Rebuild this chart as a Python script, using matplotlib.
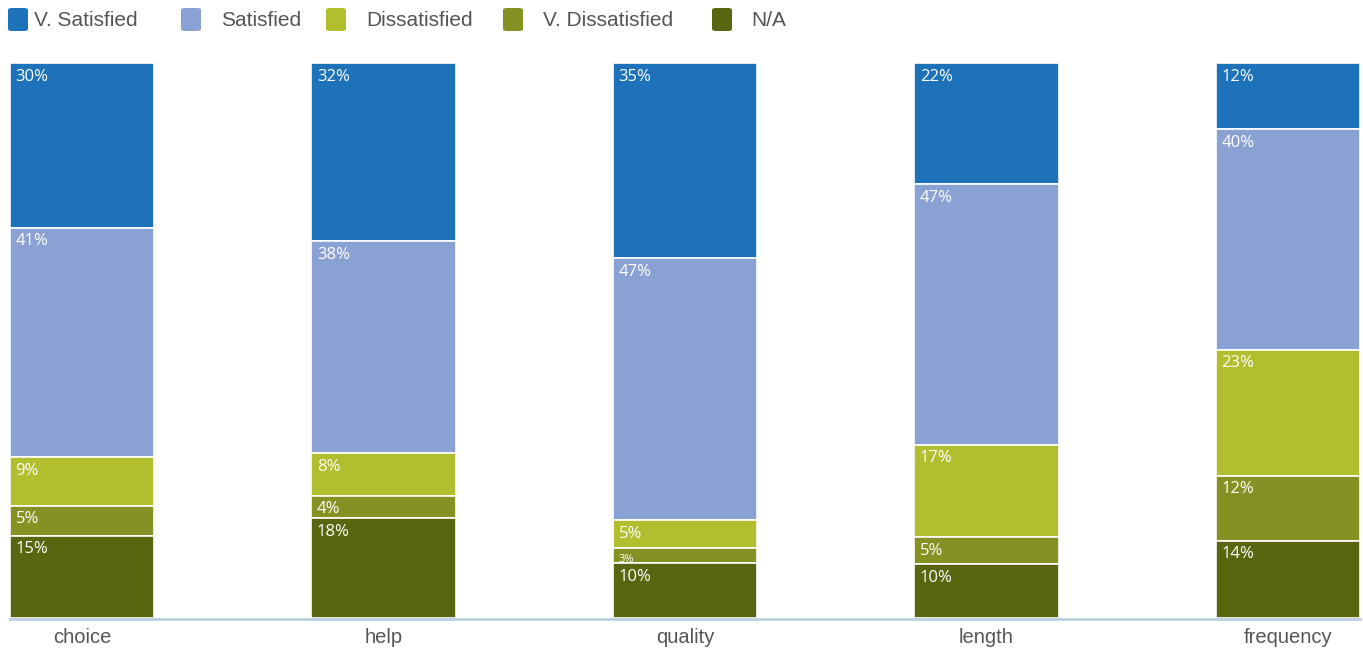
import numpy as np
import matplotlib.pyplot as plt
from matplotlib.patches import FancyBboxPatch

categories = ['choice', 'help', 'quality', 'length', 'frequency']
series = ['V. Satisfied', 'Satisfied', 'Dissatisfied', 'V. Dissatisfied', 'N/A']
colors = ['#1d72b9', '#8aa1d3', '#b1be2e', '#859122', '#5a650f']

v_satisfied = [29.7, 32.1, 35.1, 21.8, 11.9]
satisfied = [41.3, 38.2, 47.2, 47.0, 39.8]
dissatisfied = [8.8, 7.7, 5.0, 16.6, 22.7]
v_dissatisfied = [5.4, 4.0, 2.7, 4.9, 11.7]
na = [14.8, 18.0, 9.9, 9.7, 13.9]

data = np.array([v_satisfied, satisfied, dissatisfied, v_dissatisfied, na])
data = data / data.sum(axis=0) * 100

W, H = 1363, 649
fig = plt.figure(figsize=(W / 100, H / 100), dpi=100)
ax = fig.add_axes([10 / W, (H - 618) / H, 1350 / W, 555 / H])

x = np.arange(len(categories))
width = 0.478
top = np.full(len(categories), 100.0)
for i, name in enumerate(series):
    vals = data[i]
    bottom = top - vals
    ax.bar(x, vals, width, bottom=bottom, color=colors[i],
           edgecolor='white', linewidth=1.2, align='center')
    for j in range(len(categories)):
        fs = 12 if vals[j] > 3.5 else 8
        ax.annotate('%d%%' % round(vals[j]), (x[j] - width / 2, top[j]),
                    xytext=(4, -4), textcoords='offset points',
                    ha='left', va='top', color='white', fontsize=fs,
                    family='Open Sans')
    top = bottom

ax.set_xlim(-width / 2, len(categories) - 1 + width / 2)
ax.set_ylim(0, 100)
for s in ['top', 'right', 'left']:
    ax.spines[s].set_visible(False)
ax.spines['bottom'].set_color('#bccfe0')
ax.spines['bottom'].set_linewidth(2)
ax.spines['bottom'].set_position(('outward', 1))
ax.set_yticks([])
ax.set_xticks(x)
ax.set_xticklabels(categories, fontsize=14.5, color='#555555', family='Liberation Sans')
ax.tick_params(axis='x', length=0, pad=6)

# legend
sq_x = [8, 181, 326, 503, 712]
txt_x = [34, 221, 366, 543, 751]
for i, name in enumerate(series):
    fig.patches.append(FancyBboxPatch((sq_x[i] / W, (H - 31) / H), 20 / W, 23 / H,
                                      boxstyle='round,pad=0,rounding_size=0.003',
                                      transform=fig.transFigure, facecolor=colors[i],
                                      edgecolor='none'))
    fig.text(txt_x[i] / W, (H - 21) / H, name, fontsize=15, color='#555555',
             va='center', ha='left', family='Liberation Sans')

fig.savefig('out.png', dpi=100)
